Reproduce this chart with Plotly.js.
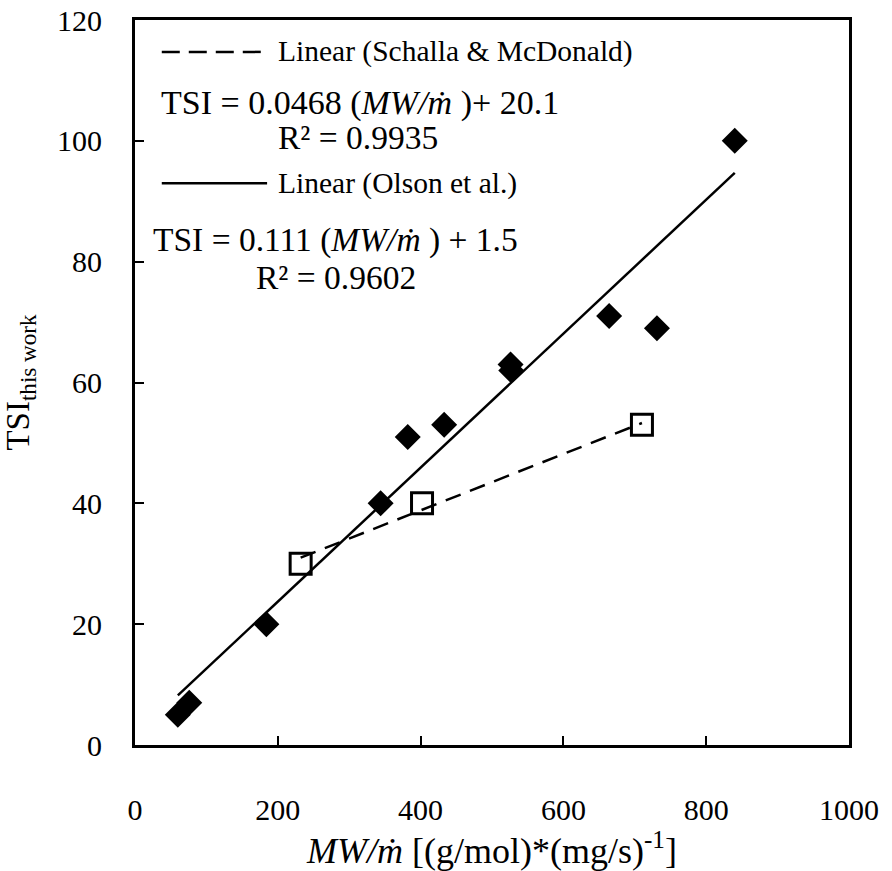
<!DOCTYPE html>
<html>
<head>
<meta charset="utf-8">
<script src="https://cdn.plot.ly/plotly-3.0.1.min.js"></script>
<style>html,body{margin:0;padding:0;background:#fff;}</style>
</head>
<body>
<div id="chart" style="width:892px;height:871px;"></div>
<script>
// Olson et al. data (filled diamonds)
const olsonX = [60, 76, 184, 344, 382, 433, 526, 527, 664, 731, 840];
const olsonY = [5, 7, 20, 40, 51, 53, 63, 62, 71, 69, 100];
// Schalla & McDonald data (open squares)
const schallaX = [232, 402, 710];
const schallaY = [30, 40, 53];
// Trendline end points
const olsonFitX = [60, 840];
const olsonFitY = [8.2, 94.7];
const schallaFitX = [232, 710];
const schallaFitY = [31.0, 53.3];
// Axis ticks
const xTicks = [0, 200, 400, 600, 800, 1000];
const yTicks = [0, 20, 40, 60, 80, 100, 120];

const FONT = "'Liberation Serif', 'Times New Roman', Times, serif";

const traces = [
  {x: olsonX, y: olsonY, type: 'scatter', mode: 'markers', name: 'Olson et al.',
   marker: {symbol: 'diamond', size: 20, color: '#000', line: {width: 0}}},
  {x: schallaX, y: schallaY, type: 'scatter', mode: 'markers', name: 'Schalla & McDonald',
   marker: {symbol: 'square-open', size: 21, color: '#000', line: {width: 3, color: '#000'}}},
  {x: olsonFitX, y: olsonFitY, type: 'scatter', mode: 'lines', name: 'Linear (Olson et al.)',
   line: {color: '#000', width: 2.5}},
  {x: schallaFitX, y: schallaFitY, type: 'scatter', mode: 'lines', name: 'Linear (Schalla & McDonald)',
   line: {color: '#000', width: 2.5, dash: '16px,10px'}}
];

const layout = {
  width: 892, height: 871,
  margin: {l: 135, r: 43, t: 20, b: 126},
  paper_bgcolor: '#fff', plot_bgcolor: '#fff',
  showlegend: false,
  font: {family: FONT, color: '#000', size: 28},
  xaxis: {
    range: [0, 1000], tickvals: xTicks, ticktext: xTicks.map(String),
    ticks: 'inside', ticklen: 9, tickwidth: 2, tickcolor: '#000',
    showline: true, linecolor: '#000', linewidth: 3, mirror: true,
    showgrid: false, zeroline: false,
    tickfont: {family: FONT, size: 30, color: '#000'},
    ticklabelstandoff: 36,
    title: {text: '<i>MW/ṁ</i> [(g/mol)*(mg/s)<sup>-1</sup>]', font: {family: FONT, size: 36, color: '#000'}, standoff: 12}
  },
  yaxis: {
    range: [0, 120], tickvals: yTicks, ticktext: yTicks.map(String),
    ticks: 'inside', ticklen: 9, tickwidth: 2, tickcolor: '#000',
    showline: true, linecolor: '#000', linewidth: 3, mirror: true,
    showgrid: false, zeroline: false,
    tickfont: {family: FONT, size: 30, color: '#000'},
    ticklabelstandoff: 24,
    title: {text: 'TSI<sub>this work</sub>', font: {family: FONT, size: 33, color: '#000'}, standoff: 18}
  },
  shapes: [
    {type: 'line', xref: 'paper', yref: 'paper', x0: 0.0375, x1: 0.178, y0: 0.956, y1: 0.956,
     line: {color: '#000', width: 2.5, dash: '18px,9px'}},
    {type: 'line', xref: 'paper', yref: 'paper', x0: 0.0375, x1: 0.185, y0: 0.775, y1: 0.775,
     line: {color: '#000', width: 2.5}}
  ],
  annotations: [
    {xref: 'paper', yref: 'paper', x: 0.198, y: 0.956, xanchor: 'left', yanchor: 'middle', showarrow: false,
     text: 'Linear (Schalla &amp; McDonald)', font: {family: FONT, size: 29.5, color: '#000'}},
    {xref: 'paper', yref: 'paper', x: 0.033, y: 0.8855, xanchor: 'left', yanchor: 'middle', showarrow: false,
     text: 'TSI = 0.0468 (<i>MW/ṁ</i> )+ 20.1', font: {family: FONT, size: 34, color: '#000'}},
    {xref: 'paper', yref: 'paper', x: 0.198, y: 0.8386, xanchor: 'left', yanchor: 'middle', showarrow: false,
     text: 'R² = 0.9935', font: {family: FONT, size: 33.5, color: '#000'}},
    {xref: 'paper', yref: 'paper', x: 0.198, y: 0.775, xanchor: 'left', yanchor: 'middle', showarrow: false,
     text: 'Linear (Olson et al.)', font: {family: FONT, size: 29.5, color: '#000'}},
    {xref: 'paper', yref: 'paper', x: 0.022, y: 0.6966, xanchor: 'left', yanchor: 'middle', showarrow: false,
     text: 'TSI = 0.111 (<i>MW/ṁ</i> ) + 1.5', font: {family: FONT, size: 33.5, color: '#000'}},
    {xref: 'paper', yref: 'paper', x: 0.167, y: 0.6455, xanchor: 'left', yanchor: 'middle', showarrow: false,
     text: 'R² = 0.9602', font: {family: FONT, size: 33.5, color: '#000'}}
  ]
};

Plotly.newPlot('chart', traces, layout, {displayModeBar: false, staticPlot: true});
</script>
</body>
</html>
